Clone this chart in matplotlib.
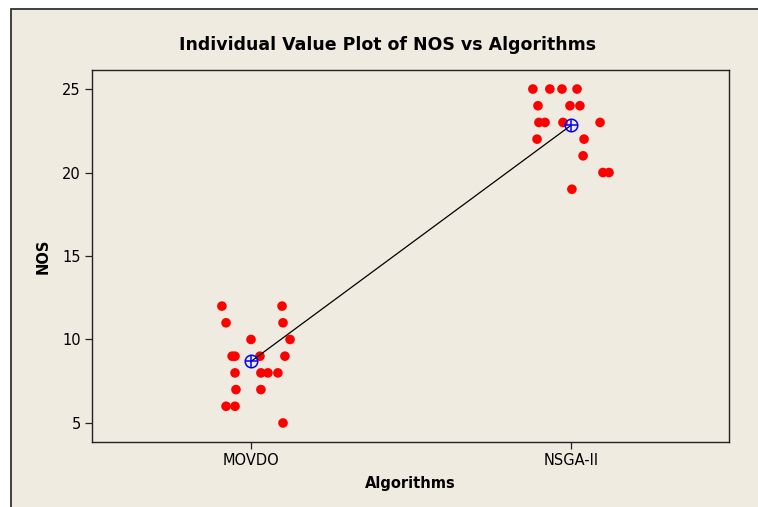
import matplotlib
matplotlib.use("Agg")
import matplotlib.pyplot as plt
from matplotlib.patches import Rectangle
import numpy as np

categories = ["MOVDO", "NSGA-II"]
movdo_values = [12, 12, 11, 11, 10, 10, 9, 9, 9, 9, 8, 8, 8, 8, 7, 7, 6, 6, 5]
movdo_jitter = [-0.091, 0.097, -0.078, 0.100, 0.000, 0.122, -0.059, -0.050, 0.028, 0.106,
                -0.050, 0.031, 0.053, 0.084, -0.047, 0.031, -0.078, -0.050, 0.100]
nsga_values = [25, 25, 25, 25, 24, 24, 24, 23, 23, 23, 23, 22, 22, 21, 20, 20, 19]
nsga_jitter = [-0.119, -0.066, -0.028, 0.019, -0.103, -0.003, 0.028, -0.100, -0.081, -0.025,
               0.091, -0.106, 0.041, 0.038, 0.100, 0.119, 0.003]
yticks = [5, 10, 15, 20, 25]

BG = "#EFEBE0"
W, H = 758, 507
fig = plt.figure(figsize=(W / 100, H / 100), dpi=100, facecolor="white")
# outer beige frame (extends beyond the image on the right and bottom)
fig.patches.append(Rectangle((11 / W, -0.1), 1.2, 1 - 9 / H + 0.1, transform=fig.transFigure,
                             facecolor=BG, edgecolor="#333333", linewidth=1.3, zorder=-5))

ax = fig.add_axes([92 / W, 1 - 442 / H, (729 - 92) / W, (442 - 70) / H])
ax.set_zorder(3)
ax.set_facecolor(BG)
for s in ax.spines.values():
    s.set_color("#222222")
    s.set_linewidth(1.0)

groups = [movdo_values, nsga_values]
jitters = [movdo_jitter, nsga_jitter]
means = []
for i, (vals, jit) in enumerate(zip(groups, jitters)):
    xpos = i + 1 + np.array(jit)
    ax.scatter(xpos, vals, s=48, color="#FF0000", edgecolors="none", zorder=3)
    means.append(np.mean(vals))

xs = [1, 2]
ax.plot(xs, means, color="black", linewidth=0.9, zorder=4)
ax.plot(xs, means, linestyle="none", marker="o", markersize=9, markerfacecolor="none",
        markeredgecolor="#0000FF", markeredgewidth=1.1, zorder=5)
ax.plot(xs, means, linestyle="none", marker="+", markersize=9, markeredgecolor="#0000FF",
        markeredgewidth=1.1, zorder=5)

ax.set_xlim(0.503, 2.494)
ax.set_ylim(3.86, 26.14)
ax.set_xticks(xs)
ax.set_xticklabels(categories)
ax.set_yticks(yticks)
for lab in ax.get_xticklabels() + ax.get_yticklabels():
    lab.set_fontsize(10.5)
ax.tick_params(axis="both", direction="out", length=5, width=0.9, color="#222222", pad=3)
ax.tick_params(axis="x", pad=3)

ax.set_xlabel("Algorithms", fontsize=10.5, fontweight="bold", labelpad=6)
ax.set_ylabel("NOS", fontsize=10.5, fontweight="bold", labelpad=8)
fig.text(387.5 / W, 1 - 45 / H, "Individual Value Plot of NOS vs Algorithms", ha="center",
         va="center", fontsize=12.5, fontweight="bold", zorder=5)

fig.savefig("out.png", dpi=100, facecolor="white")
